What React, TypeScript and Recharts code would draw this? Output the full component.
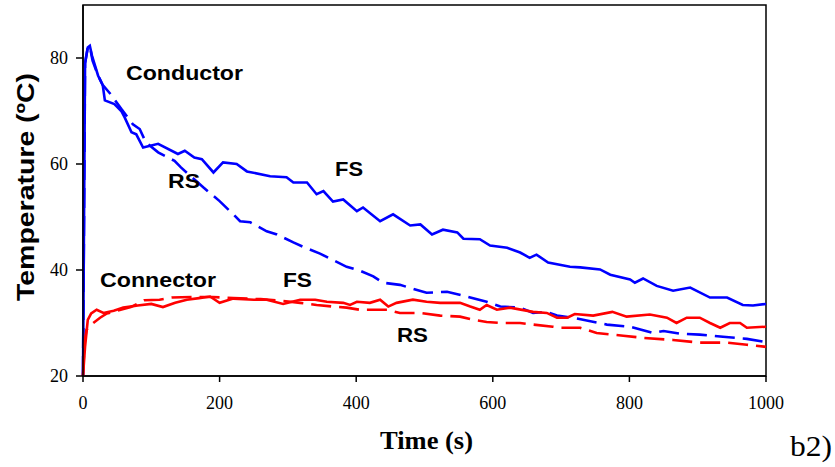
import { LineChart, Line, XAxis, YAxis, ReferenceArea } from "recharts";

// Conductor, full-scale test (solid blue)
const condFsTime = [0, 3, 7, 10, 13, 22, 29, 32, 46, 56, 61, 71, 78, 88, 110, 139, 149, 163, 174, 191, 205, 225, 240, 274, 298, 308, 328, 342, 352, 366, 381, 401, 410, 435, 454, 479, 494, 511, 527, 548, 557, 581, 596, 621, 640, 654, 664, 681, 713, 728, 757, 772, 801, 808, 820, 840, 864, 889, 918, 943, 966, 981, 1000];
const condFsTemp = [20, 79, 82, 82.3, 80.5, 76.7, 74.8, 72, 71.3, 70, 68.8, 66, 65.6, 63.1, 63.8, 61.9, 62.5, 61.2, 60.9, 58.4, 60.3, 60, 58.6, 57.7, 57.5, 56.5, 56.5, 54.3, 54.9, 52.9, 53.3, 51.1, 51.8, 49.2, 50.5, 48.4, 48.6, 46.7, 47.6, 47.1, 45.9, 45.8, 44.6, 44.2, 43.3, 42.3, 42.9, 41.4, 40.6, 40.5, 40.1, 39.1, 38.2, 37.6, 38.4, 37.0, 36.1, 36.7, 34.8, 34.8, 33.4, 33.3, 33.6];

// Conductor, reduced-scale test (dashed blue)
const condRsTime = [0, 3, 7, 10, 14, 22, 29, 41, 56, 73, 83, 92, 110, 134, 143, 176, 200, 220, 230, 245, 269, 284, 308, 322, 347, 386, 405, 425, 439, 464, 503, 533, 562, 591, 611, 640, 659, 679, 694, 717, 767, 801, 835, 850, 874, 903, 937, 972, 1000];
const condRsTemp = [20, 79, 82, 82.2, 79.5, 76.7, 74.9, 73.1, 70.4, 67.5, 66.6, 64.1, 62.2, 60.6, 59.4, 55.6, 53, 50.5, 49.2, 49, 47.3, 46.7, 45.2, 44.4, 43.1, 40.6, 39.9, 38.8, 37.6, 37.2, 35.7, 35.9, 35, 34, 33.1, 32.9, 31.9, 32.1, 31.4, 31.0, 29.7, 29.3, 28.1, 28.5, 28.0, 27.8, 27.4, 27.0, 26.4];

// Connector, full-scale test (solid red)
const connFsTime = [0, 3, 7, 12, 20, 30, 45, 59, 80, 100, 117, 135, 152, 170, 186, 200, 220, 250, 269, 293, 318, 340, 357, 381, 391, 401, 420, 435, 447, 459, 483, 503, 523, 552, 567, 581, 591, 606, 625, 659, 679, 694, 709, 720, 747, 775, 796, 830, 855, 869, 884, 903, 918, 933, 947, 962, 972, 1000];
const connFsTemp = [20, 25.5, 30.6, 31.8, 32.5, 31.9, 32.3, 32.9, 33.3, 33.6, 33.0, 33.8, 34.4, 34.7, 35, 33.8, 34.6, 34.4, 34.4, 33.6, 34.4, 34.4, 34.0, 33.8, 33.4, 34.0, 33.8, 34.4, 33.1, 33.8, 34.4, 34.0, 33.8, 33.8, 33.1, 32.5, 33.4, 32.5, 32.9, 32.1, 31.9, 31.0, 31.0, 31.7, 31.4, 32.1, 31.2, 31.6, 31.0, 30.0, 31.0, 31.0, 30.0, 29.1, 30.0, 30.0, 29.1, 29.3];

// Connector, reduced-scale test (dashed red)
const connRsTime = [0, 2, 5, 15, 25, 35, 50, 70, 90, 112, 130, 160, 190, 220, 260, 290, 318, 342, 366, 386, 405, 445, 464, 493, 523, 552, 571, 591, 611, 640, 659, 688, 698, 728, 752, 791, 820, 864, 903, 943, 972, 1000];
const connRsTemp = [20, 26, 28.7, 30, 31, 31.8, 32.3, 33, 34.3, 34.4, 34.8, 34.9, 34.9, 34.7, 34.5, 34.2, 33.8, 33.4, 33.1, 32.9, 32.5, 32.5, 31.9, 31.9, 31.4, 31.2, 30.6, 30.2, 30.0, 30.0, 29.7, 29.3, 29.1, 29.1, 28.1, 27.6, 27.2, 26.8, 26.3, 26.3, 25.9, 25.5];

const xTicks = [0, 200, 400, 600, 800, 1000];
const yTicks = [20, 40, 60, 80];

const toPoints = (times: number[], temps: number[]) =>
  times.map((t, i) => ({ t, v: temps[i] }));

const BLUE = "#0000ff";
const RED = "#ff0000";
const SANS = "'Liberation Sans', Arial, sans-serif";
const SERIF = "'Liberation Serif', 'Times New Roman', serif";

export default function App() {
  const condFs = toPoints(condFsTime, condFsTemp);
  const condRs = toPoints(condRsTime, condRsTemp);
  const connFs = toPoints(connFsTime, connFsTemp);
  const connRs = toPoints(connRsTime, connRsTemp);

  const tickStyle = { fontSize: 18, fill: "#000", fontFamily: SERIF };
  const note = { fontFamily: SANS, fontWeight: "bold" as const, fontSize: 21, fill: "#000" };

  return (
    <div style={{ position: "relative", width: 835, height: 467, background: "#fff" }}>
      <style>{"body{margin:0}"}</style>
      <LineChart width={835} height={467} margin={{ top: 5, right: 69, left: 0, bottom: 0 }}>
        <XAxis
          dataKey="t"
          type="number"
          domain={[0, 1000]}
          ticks={xTicks}
          height={91}
          tick={tickStyle}
          tickSize={6}
          tickMargin={14}
          axisLine={{ stroke: "#000", strokeWidth: 1.5 }}
          tickLine={{ stroke: "#000", strokeWidth: 1.5 }}
          allowDuplicatedCategory={false}
        />
        <YAxis
          type="number"
          domain={[20, 90]}
          ticks={yTicks}
          width={83}
          tick={tickStyle}
          tickSize={7}
          tickMargin={8}
          axisLine={{ stroke: "#000", strokeWidth: 1.5 }}
          tickLine={{ stroke: "#000", strokeWidth: 1.5 }}
        />
        <ReferenceArea x1={0} x2={1000} y1={20} y2={90} fill="none" stroke="#000" strokeWidth={1.5} ifOverflow="visible" />
        <Line data={condFs} dataKey="v" type="linear" stroke={BLUE} strokeWidth={2.6} dot={false} isAnimationActive={false} />
        <Line data={condRs} dataKey="v" type="linear" stroke={BLUE} strokeWidth={2.6} strokeDasharray="20 8" dot={false} isAnimationActive={false} />
        <Line data={connFs} dataKey="v" type="linear" stroke={RED} strokeWidth={2.6} dot={false} isAnimationActive={false} />
        <Line data={connRs} dataKey="v" type="linear" stroke={RED} strokeWidth={2.6} strokeDasharray="20 8" dot={false} isAnimationActive={false} />
      </LineChart>
      <svg width={835} height={467} style={{ position: "absolute", left: 0, top: 0, pointerEvents: "none" }}>
        <text {...note} x={126} y={80} textLength={117} lengthAdjust="spacingAndGlyphs">Conductor</text>
        <text {...note} x={168} y={188} textLength={32} lengthAdjust="spacingAndGlyphs">RS</text>
        <text {...note} x={335} y={176} textLength={28} lengthAdjust="spacingAndGlyphs">FS</text>
        <text {...note} x={100} y={287} textLength={116} lengthAdjust="spacingAndGlyphs">Connector</text>
        <text {...note} x={283} y={287} textLength={29} lengthAdjust="spacingAndGlyphs">FS</text>
        <text {...note} x={397} y={342} textLength={31} lengthAdjust="spacingAndGlyphs">RS</text>
        <text
          fontFamily={SANS}
          fontWeight="bold"
          fontSize={24}
          fill="#000"
          textAnchor="middle"
          transform="translate(34,187) rotate(-90)"
          textLength={228}
          lengthAdjust="spacingAndGlyphs"
        >
          Temperature (ºC)
        </text>
        <text fontFamily={SERIF} fontWeight="bold" fontSize={26} fill="#000" x={380} y={449} textLength={93} lengthAdjust="spacingAndGlyphs">
          Time (s)
        </text>
        <text fontFamily={SERIF} fontSize={30} fill="#000" x={790} y={456} textLength={42} lengthAdjust="spacingAndGlyphs">
          b2)
        </text>
      </svg>
    </div>
  );
}
